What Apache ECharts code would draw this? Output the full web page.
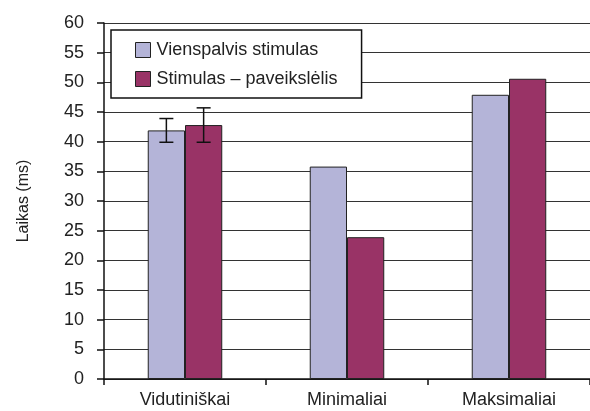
<!DOCTYPE html>
<html>
<head>
<meta charset="utf-8">
<script src="https://cdn.jsdelivr.net/npm/echarts@6/dist/echarts.min.js"></script>
<style>
  html, body { margin: 0; padding: 0; background: #fff; }
  #chart { width: 590px; height: 411px; }
</style>
</head>
<body>
<div id="chart"></div>
<script>
// duomenys
var categories = ['Vidutiniškai', 'Minimaliai', 'Maksimaliai'];
var seriesNames = ['Vienspalvis stimulas', 'Stimulas – paveikslėlis'];
var viensValues = [41.9, 35.8, 47.9];
var paveikValues = [42.8, 23.9, 50.6];
var viensErr = [2.0, null, null];
var paveikErr = [2.9, null, null];

var catGap = 0.54; // barCategoryGap

// error bar data: [kategorija, apacia, virsus, puse (-1 kaire / +1 desine)]
var errData = [];
for (var i = 0; i < categories.length; i++) {
  if (viensErr[i] != null) errData.push([i, viensValues[i] - viensErr[i], viensValues[i] + viensErr[i], -1]);
  if (paveikErr[i] != null) errData.push([i, paveikValues[i] - paveikErr[i], paveikValues[i] + paveikErr[i], 1]);
}

var chart = echarts.init(document.getElementById('chart'));
var font = '"Liberation Sans", Arial, sans-serif';

chart.setOption({
  animation: false,
  textStyle: { fontFamily: font },
  grid: { left: 104, right: 0, top: 23, bottom: 32 },
  legend: {
    orient: 'vertical',
    left: 111,
    top: 30,
    data: seriesNames,
    backgroundColor: '#fff',
    borderColor: '#111',
    borderWidth: 1.5,
    borderRadius: 0,
    padding: [11, 24, 10, 24],
    itemGap: 11,
    itemWidth: 15,
    itemHeight: 15,
    icon: 'rect',
    itemStyle: { borderColor: '#222', borderWidth: 1 },
    textStyle: { fontSize: 18, color: '#222', fontFamily: font, padding: [0, 0, 0, 1] }
  },
  xAxis: {
    type: 'category',
    data: categories,
    axisLine: { lineStyle: { color: '#111', width: 1.5 } },
    axisTick: { show: true, length: 6, lineStyle: { color: '#111', width: 1.5 } },
    axisLabel: { fontSize: 18, color: '#222', margin: 12 }
  },
  yAxis: {
    type: 'value',
    min: 0,
    max: 60,
    interval: 5,
    name: 'Laikas (ms)',
    nameLocation: 'middle',
    nameGap: 72,
    nameRotate: 90,
    nameTextStyle: { fontSize: 16, color: '#222' },
    axisLine: { show: true, lineStyle: { color: '#111', width: 1.5 } },
    axisTick: { show: true, length: 7, lineStyle: { color: '#111', width: 1.5 } },
    axisLabel: { fontSize: 18, color: '#222', margin: 20 },
    splitLine: { show: true, lineStyle: { color: '#333', width: 1 } }
  },
  series: [
    {
      name: seriesNames[0],
      type: 'bar',
      data: viensValues,
      barGap: '0%',
      barCategoryGap: (catGap * 100) + '%',
      itemStyle: { color: '#b4b4d8', borderColor: '#222', borderWidth: 1 }
    },
    {
      name: seriesNames[1],
      type: 'bar',
      data: paveikValues,
      barGap: '0%',
      barCategoryGap: (catGap * 100) + '%',
      itemStyle: { color: '#993366', borderColor: '#222', borderWidth: 1 }
    },
    {
      type: 'custom',
      data: errData,
      z: 5,
      renderItem: function (params, api) {
        var catW = api.size([1, 0])[0];
        var bw = catW * (1 - catGap) / 2;
        var low = api.coord([api.value(0), api.value(1)]);
        var high = api.coord([api.value(0), api.value(2)]);
        var x = low[0] + api.value(3) * bw / 2;
        var cap = 7;
        var style = { stroke: '#111', lineWidth: 1.5 };
        return {
          type: 'group',
          children: [
            { type: 'line', shape: { x1: x, y1: low[1], x2: x, y2: high[1] }, style: style },
            { type: 'line', shape: { x1: x - cap, y1: low[1], x2: x + cap, y2: low[1] }, style: style },
            { type: 'line', shape: { x1: x - cap, y1: high[1], x2: x + cap, y2: high[1] }, style: style }
          ]
        };
      }
    }
  ]
});
</script>
</body>
</html>
